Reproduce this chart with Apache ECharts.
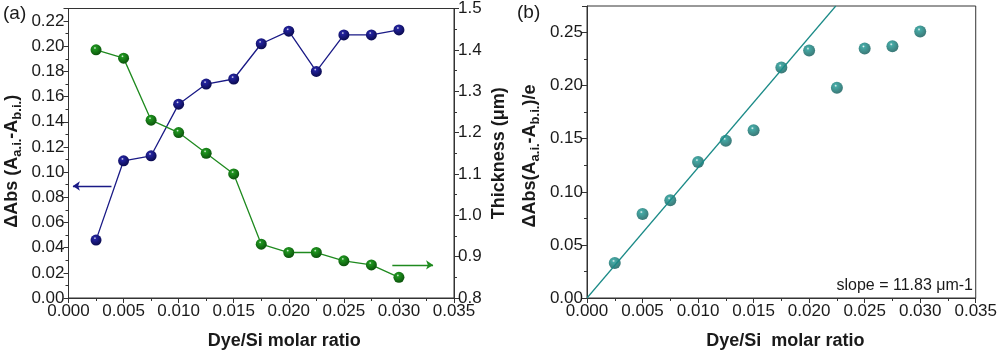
<!DOCTYPE html>
<html>
<head>
<meta charset="utf-8">
<script src="https://cdn.jsdelivr.net/npm/echarts@6/dist/echarts.min.js"></script>
<style>
html,body{margin:0;padding:0;background:#fff;}
#c{width:1000px;height:355px;}
</style>
</head>
<body>
<div id="c"></div>
<script>
// ---- data ----
var ratio = [0.0025, 0.005, 0.0075, 0.010, 0.0125, 0.015, 0.0175, 0.020, 0.0225, 0.025, 0.0275, 0.030];
var deltaAbs = [0.046, 0.109, 0.113, 0.154, 0.170, 0.174, 0.202, 0.212, 0.180, 0.209, 0.209, 0.213];
var thickness = [1.40, 1.38, 1.23, 1.20, 1.15, 1.10, 0.93, 0.91, 0.91, 0.89, 0.88, 0.85];
var normAbs = [0.033, 0.079, 0.092, 0.128, 0.148, 0.158, 0.217, 0.233, 0.198, 0.235, 0.237, 0.251];
var fitX = [0, 0.0224];
var fitY = [0, 0.275];
var blueArrowX = [0.0039, 0.0004];
var blueArrowY = 0.089;
var greenArrowX = [0.0294, 0.0331];
var greenArrowY = 0.88;
var xTicks = { min: 0, max: 0.035, interval: 0.005 };
var leftY = { min: 0, max: 0.23, interval: 0.02 };
var thickY = { min: 0.8, max: 1.5, interval: 0.1 };
var rightY = { min: 0, max: 0.275, interval: 0.05 };

var FONT = '"Liberation Sans", Arial, sans-serif';
var AX = '#333';
var TXT = '#1a1a1a';

function zip(xs, ys) { return xs.map(function (x, i) { return [x, ys[i]]; }); }
function sphere(base, dark) {
  return { type: 'radial', x: 0.4, y: 0.33, r: 0.68,
    colorStops: [{ offset: 0, color: '#f4f4f4' }, { offset: 0.18, color: base }, { offset: 1, color: dark }] };
}

var chart = echarts.init(document.getElementById('c'), null, { renderer: 'canvas' });

function xAxisCfg(gi, name, pad) {
  return {
    type: 'value', gridIndex: gi, min: xTicks.min, max: xTicks.max, interval: xTicks.interval,
    name: name, nameLocation: 'middle', nameGap: 34,
    nameTextStyle: { fontFamily: FONT, fontSize: 18, fontWeight: 'bold', color: TXT, padding: pad },
    axisLine: { show: true, lineStyle: { color: AX, width: 1 } },
    axisTick: { show: true, length: 5, lineStyle: { color: AX } },
    minorTick: { show: true, splitNumber: 2, length: 3, lineStyle: { color: AX } },
    splitLine: { show: false },
    axisLabel: { fontFamily: FONT, fontSize: 17, color: TXT, margin: 5,
      formatter: function (v) { return v.toFixed(3); } }
  };
}
function yAxisCfg(gi, rng, pos, dec, name, gap) {
  return {
    type: 'value', gridIndex: gi, position: pos, min: rng.min, max: rng.max, interval: rng.interval,
    name: name, nameLocation: 'middle', nameGap: gap, nameRotate: 90,
    nameTextStyle: { fontFamily: FONT, fontSize: 18, fontWeight: 'bold', color: TXT },
    axisLine: { show: true, lineStyle: { color: AX, width: 1 } },
    axisTick: { show: true, length: 5, lineStyle: { color: AX } },
    minorTick: { show: true, splitNumber: 2, length: 3, lineStyle: { color: AX } },
    splitLine: { show: false },
    axisLabel: { fontFamily: FONT, fontSize: 17, color: TXT, margin: 4, showMaxLabel: false,
      formatter: function (v) { return v.toFixed(dec); } }
  };
}

var subRich = {
  b: { fontFamily: FONT, fontSize: 18, fontWeight: 'bold', color: TXT, lineHeight: 24 },
  s: { fontFamily: FONT, fontSize: 13, fontWeight: 'bold', color: TXT, lineHeight: 24, padding: [10, 0, 0, 0] }
};

var yLeft = yAxisCfg(0, leftY, 'left', 2, '{b|ΔAbs (A}{s|a.i.}{b|-A}{s|b.i.}{b|)}', 44);
yLeft.nameTextStyle.rich = subRich;
yLeft.nameTextStyle.padding = [0, 16, 0, 0];
var yThick = yAxisCfg(0, thickY, 'right', 1, 'Thickness (μm)', 36);
yThick.axisLabel.showMaxLabel = true;
yThick.nameTextStyle.padding = [0, 0, 6, 0];
var yRight = yAxisCfg(1, rightY, 'left', 2, '{b|ΔAbs(A}{s|a.i.}{b|-A}{s|b.i.}{b|)/e}', 45);
yRight.nameTextStyle.rich = subRich;
yRight.nameTextStyle.padding = [0, 8, 0, 0];

chart.setOption({
  animation: false,
  backgroundColor: '#fff',
  grid: [
    { left: 68, right: 546, top: 8.5, bottom: 51.5, show: true, borderColor: AX, borderWidth: 1, backgroundColor: 'transparent' },
    { left: 587, right: 22, top: 6, bottom: 49.5, show: true, borderColor: AX, borderWidth: 1, backgroundColor: 'transparent' }
  ],
  xAxis: [xAxisCfg(0, 'Dye/Si molar ratio', [0, 0, 0, 46]), xAxisCfg(1, 'Dye/Si  molar ratio', [0, 0, 0, 8])],
  yAxis: [yLeft, yThick, yRight],
  graphic: [
    { type: 'text', left: 3, top: 4, style: { text: '(a)', font: '19px ' + FONT, fill: TXT } },
    { type: 'text', left: 517, top: 3, style: { text: '(b)', font: '19px ' + FONT, fill: TXT } },
    { type: 'text', right: 27, top: 278, style: { text: 'slope = 11.83 μm-1', font: '16px ' + FONT, fill: TXT } }
  ],
  series: [
    {
      type: 'line', xAxisIndex: 0, yAxisIndex: 0, data: zip(ratio, deltaAbs),
      symbol: 'circle', symbolSize: 11, showSymbol: true,
      lineStyle: { color: '#1a1a86', width: 1.3 },
      itemStyle: { color: sphere('#23239e', '#0a0a4e'), borderWidth: 0 },
      markLine: {
        silent: true, symbol: ['none', 'arrow'], symbolSize: [7, 7], label: { show: false },
        lineStyle: { color: '#1a1a86', width: 1.3, type: 'solid' },
        data: [[{ coord: [blueArrowX[0], blueArrowY] }, { coord: [blueArrowX[1], blueArrowY] }]]
      }
    },
    {
      type: 'line', xAxisIndex: 0, yAxisIndex: 1, data: zip(ratio, thickness),
      symbol: 'circle', symbolSize: 11, showSymbol: true,
      lineStyle: { color: '#1f8a1f', width: 1.3 },
      itemStyle: { color: sphere('#1f961f', '#0b520b'), borderWidth: 0 },
      markLine: {
        silent: true, symbol: ['none', 'arrow'], symbolSize: [7, 7], label: { show: false },
        lineStyle: { color: '#1f8a1f', width: 1.3, type: 'solid' },
        data: [[{ coord: [greenArrowX[0], greenArrowY] }, { coord: [greenArrowX[1], greenArrowY] }]]
      }
    },
    {
      type: 'line', xAxisIndex: 1, yAxisIndex: 2, data: zip(fitX, fitY),
      symbol: 'none', lineStyle: { color: '#1a8a87', width: 1.2 }
    },
    {
      type: 'scatter', xAxisIndex: 1, yAxisIndex: 2, data: zip(ratio, normAbs),
      symbol: 'circle', symbolSize: 12,
      itemStyle: { color: sphere('#17948f', '#0a5553'), borderWidth: 0 }
    }
  ]
});
</script>
</body>
</html>
